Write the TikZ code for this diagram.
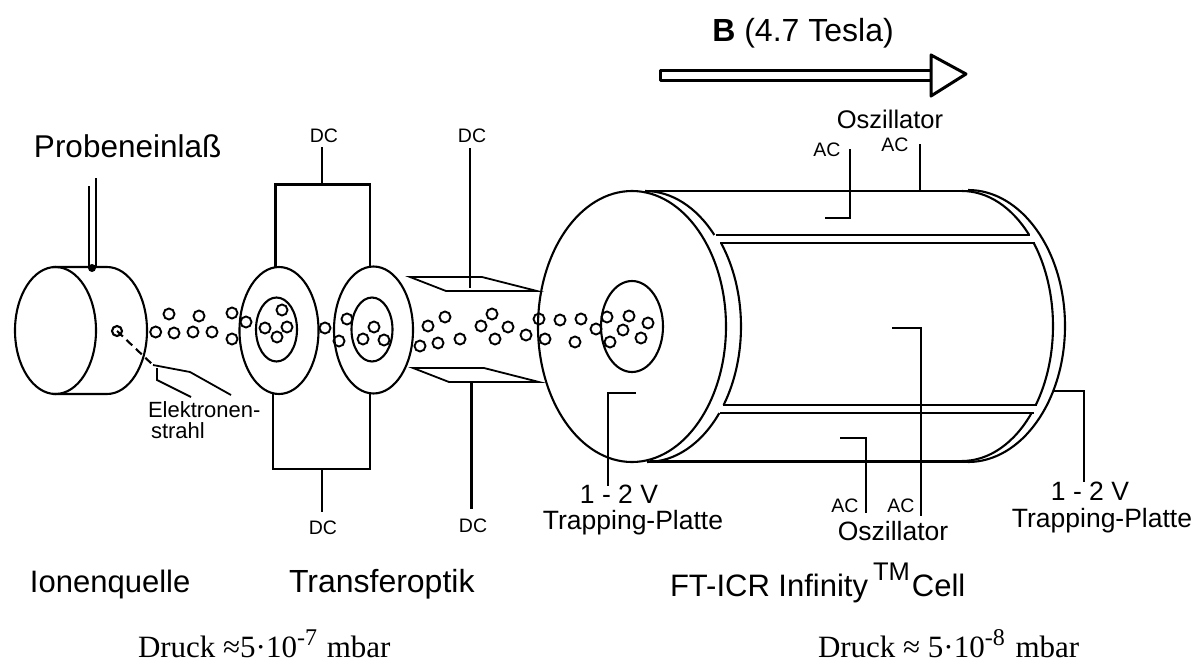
\documentclass[tikz,border=0pt]{standalone}
\usepackage{fontspec}
\setmainfont{Liberation Sans}
\newfontfamily\druckfont{Liberation Serif}
\newcommand{\hochzahl}[1]{\raisebox{12pt}{\fontsize{24}{26}\selectfont #1}}
\tikzset{
  wall/.style={line width=2.1pt},
  thin wall/.style={line width=1.8pt},
  ion/.style={line width=1.9pt},
  txt/.style={inner sep=0pt,outer sep=0pt,anchor=base},
  small/.style={txt,font=\fontsize{19.5}{22}\selectfont},
  medium/.style={txt,font=\fontsize{26.5}{30}\selectfont},
  large/.style={txt,font=\fontsize{31.5}{36}\selectfont},
  druck/.style={txt,font=\druckfont\fontsize{31}{32}\selectfont}
}
\begin{document}
\begin{tikzpicture}[x=1pt,y=-1pt]
  \useasboundingbox (0,0) rectangle (1195,664);

  \draw[wall] (55.5,330.5) ellipse [x radius=40.5,y radius=63.5];
  \draw[wall] (53,267) -- (107,267) arc [start angle=-90,end angle=90,x radius=40,y radius=63.5] -- (53,394);
  \draw[wall] (89,186) -- (89,268);
  \draw[wall] (96,178) -- (96,268);
  \fill (92,268) circle (4);
  \draw[wall] (117,331) circle (5);
  \draw[wall,dash pattern=on 8pt off 5pt] (117,331) -- (153,365);
  \draw[thin wall] (153,365) -- (190,372) -- (231,395);
  \draw[thin wall] (157,368) -- (157,380) -- (191,397);

  \foreach \cx/\cy in {279/330.5,373.5/330}
    \draw[wall] (\cx,\cy) ellipse [x radius=39.5,y radius=63.5];
  \foreach \cx in {276.5,372}
    \draw[wall] (\cx,329.5) ellipse [x radius=20.5,y radius=32];
  \draw[wall] (275.5,267) -- (275.5,184.5) -- (370,184.5) -- (370,267);
  \draw[wall] (273,394) -- (273,469) -- (370,469) -- (370,394);
  \draw[wall] (322,147) -- (322,184.5);
  \draw[wall] (322,469) -- (322,512);

  \draw[thin wall] (410,277) -- (482,277) -- (537,291) -- (446,291) -- cycle;
  \draw[thin wall] (413,368) -- (484,368) -- (539,382) -- (449,382) -- cycle;
  \draw[wall] (470,148) -- (470,288);
  \draw[wall] (471.5,382) -- (471.5,509);

  \draw[wall] (632,326.5) ellipse [x radius=94,y radius=135.5];
  \draw[wall] (632,326.5) ellipse [x radius=31,y radius=45.5];
  \draw[wall] (645,191) arc [start angle=-90,end angle=-42.5,x radius=94,y radius=135.5];
  \draw[wall] (647,326.5) ++(-38:94 and 135.5) arc [start angle=-38,end angle=35.4,x radius=94,y radius=135.5];
  \draw[wall] (647,326.5) ++(39.7:94 and 135.5) arc [start angle=39.7,end angle=90,x radius=94,y radius=135.5];

  \draw[wall] (645,191) -- (970,191);
  \draw[wall] (650,461.5) -- (970,461.5);
  \draw[wall] (716,235) -- (1030,235);
  \draw[wall] (720,243) -- (1035,243);
  \draw[wall] (723,405) -- (1037,405);
  \draw[wall] (720,413) -- (1034,413);

  \draw[wall] (962,191) arc [start angle=-90,end angle=-42.5,x radius=91,y radius=135];
  \draw[wall] (962,326) ++(-38:91 and 135) arc [start angle=-38,end angle=36,x radius=91,y radius=135];
  \draw[wall] (962,326) ++(40:91 and 135) arc [start angle=40,end angle=90,x radius=91,y radius=135];
  \draw[wall] (968,190) arc [start angle=-90,end angle=90,x radius=97,y radius=136];

  \draw[thin wall] (825,218) -- (850,218) -- (850,149);
  \draw[thin wall] (920,144) -- (920,191);
  \draw[thin wall] (840,438) -- (866,438) -- (866,513);
  \draw[thin wall] (892,328) -- (921,328) -- (921,516);
  \draw[thin wall] (1054,391) -- (1084,391) -- (1084,482);
  \draw[thin wall] (636,393) -- (608,393) -- (608,486);

  \foreach \x/\y in {155.7/332,169/314,174/333,199/316,193/332,212/332,232/313,232/339,246/322,
    282/310,265/328,287/327,277/337,325/328,347/319,339/341,374/327,363/339,384/340,
    428/326,445/317,420/346,438/343,460/339,481/326,492/314,508/327,495/339,526/335,
    539/319,545/339,560/320,581/319,575/342,596/329,607/317,629/316,648/323,623/330,641/338,610/342}
    \draw[ion] (\x,\y) circle (5.5);

  \draw[line width=3pt,line join=round] (931,70) -- (660,70) -- (660,80) -- (931,80);
  \draw[line width=3pt,line join=round] (931,55) -- (966,74) -- (931,96) -- cycle;

  \node[large,font=\fontsize{32}{36}\selectfont] (magnet) at (803,41) {\textbf{B} (4.7 Tesla)};
  \node[large,anchor=base west] (einlass) at (34,157) {Probeneinlaß};
  \node[small,font=\fontsize{22}{24}\selectfont,anchor=base west] (strahlA) at (148,417) {Elektronen-};
  \node[small,font=\fontsize{22}{24}\selectfont,anchor=base west] (strahlB) at (151,438) {strahl};
  \node[small] (dcA) at (324,142) {DC};
  \node[small] (dcB) at (472,142) {DC};
  \node[small] (dcC) at (323,534) {DC};
  \node[small] (dcD) at (473,532) {DC};
  \node[medium,font=\fontsize{25.5}{30}\selectfont] (oszA) at (890,128) {Oszillator};
  \node[medium] (oszB) at (893,540) {Oszillator};
  \node[small] (acA) at (827,156) {AC};
  \node[small] (acB) at (895,151) {AC};
  \node[small] (acC) at (845,512) {AC};
  \node[small] (acD) at (901,512) {AC};
  \node[medium] (voltA) at (619,503) {1 - 2 V};
  \node[medium] (trapA) at (633,529) {Trapping-Platte};
  \node[medium] (voltB) at (1090,500) {1 - 2 V};
  \node[medium] (trapB) at (1102,527) {Trapping-Platte};
  \node[large,font=\fontsize{31}{36}\selectfont,anchor=base west] (quelle) at (30,592) {Ionenquelle};
  \node[large,font=\fontsize{32}{36}\selectfont,anchor=base west] (optik) at (289,592) {Transferoptik};
  \node[large,anchor=base west,font=\fontsize{31}{36}\selectfont] (cell) at (670,596) {FT-ICR Infinity\hspace{5pt}\raisebox{16pt}{\fontsize{25.5}{28}\selectfont TM}\hspace{2pt}Cell};
  \node[druck,anchor=base west] (druckA) at (138,657) {Druck ≈5·10\hochzahl{-7}\hspace{2pt} mbar};
  \node[druck,anchor=base west] (druckB) at (818,657) {Druck ≈ 5·10\hochzahl{-8}\hspace{3pt} mbar};
\end{tikzpicture}
\end{document}
